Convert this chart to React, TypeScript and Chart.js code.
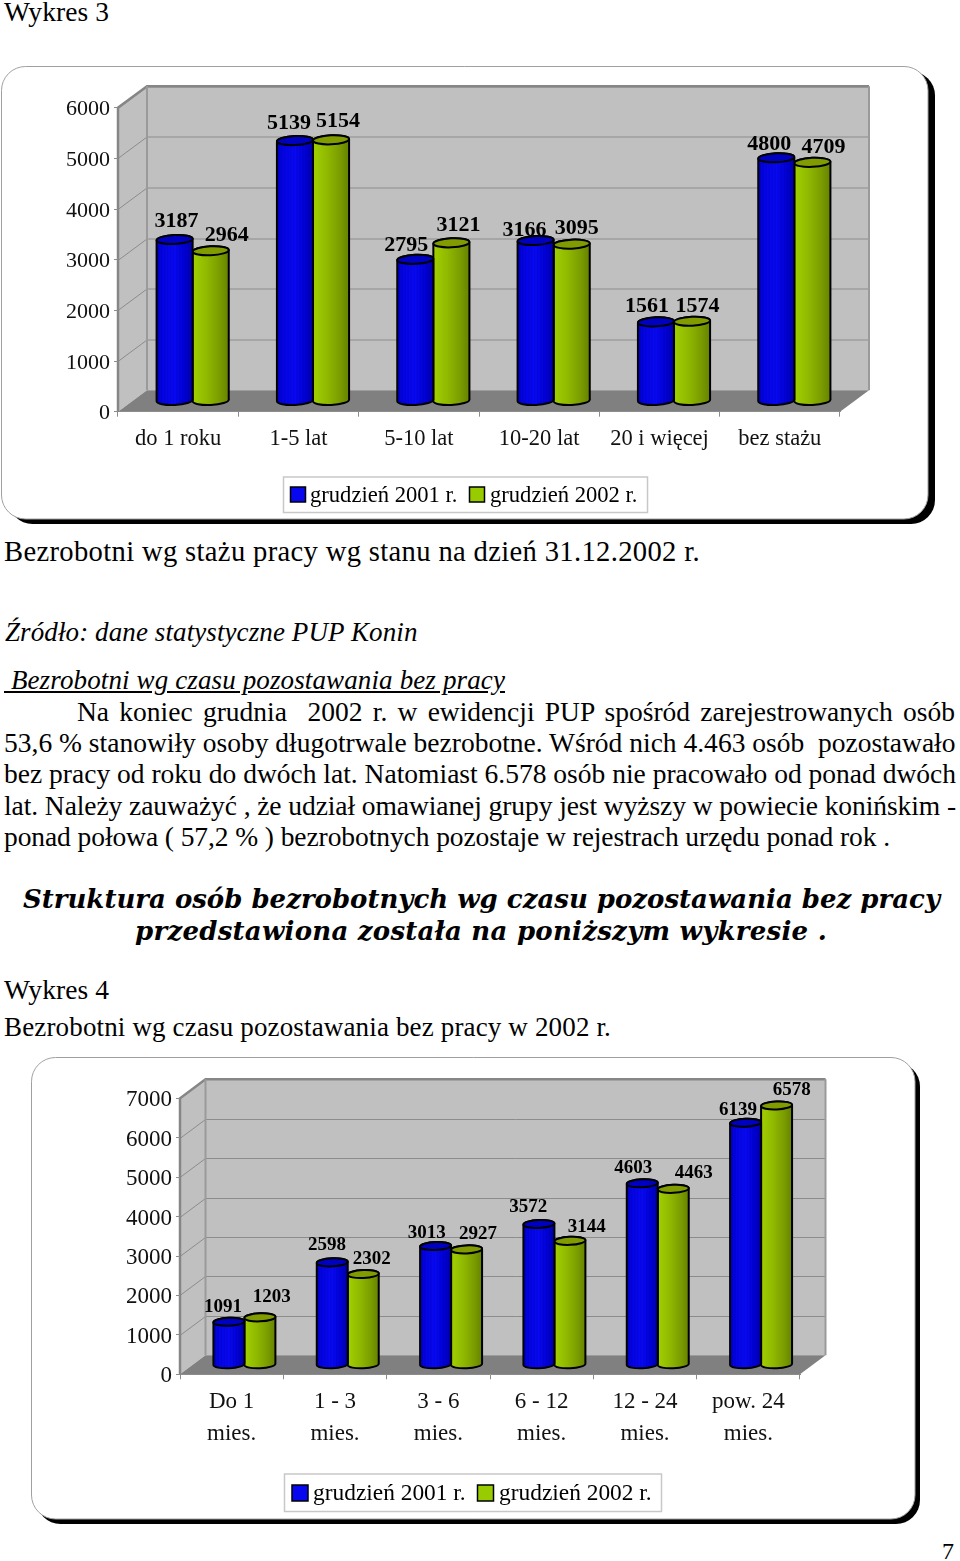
import React, { useEffect, useRef } from "react";
import { Chart, registerables, BarController } from "chart.js";

Chart.register(...registerables);

const SERIES_A = "grudzień 2001 r.";
const SERIES_B = "grudzień 2002 r.";

const stazCategories = ["do 1 roku", "1-5 lat", "5-10 lat", "10-20 lat", "20 i więcej", "bez stażu"];
const staz2001 = [3187, 5139, 2795, 3166, 1561, 4800];
const staz2002 = [2964, 5154, 3121, 3095, 1574, 4709];

const czasCategories = [["Do 1", "mies."], ["1 - 3", "mies."], ["3 - 6", "mies."], ["6 - 12", "mies."], ["12 - 24", "mies."], ["pow. 24", "mies."]];
const czas2001 = [1091, 2598, 3013, 3572, 4603, 6139];
const czas2002 = [1203, 2302, 2927, 3144, 4463, 6578];

// Style: label nudges from the top of each cylinder, per series.
const stazNudgeA = [[2, -18], [-6, -17.5], [-9, -14], [-11, -10.5], [-9, -15.5], [-7, -13.5]];
const stazNudgeB = [[16, -15.5], [7, -18.5], [7, -17.5], [5, -16], [5.5, -14.5], [11, -15.5]];
const czasNudgeA = [[-5.9, -14.6], [-5.25, -16.9], [-8.9, -13.1], [-10.6, -17.1], [-9, -14.8], [-7.5, -12.5]];
const czasNudgeB = [[11.8, -20.2], [8.45, -15.1], [11.4, -15.2], [16.8, -13.6], [20.5, -15.9], [15.2, -14.9]];

const SERIF = '"Liberation Serif"';

const PALETTE: Record<string, any> = {
  "#0808f0": {
    stops: [[0, "#0000cc"], [0.18, "#0404e6"], [0.5, "#0808f4"], [0.8, "#0000d4"], [1, "#0000a8"]],
    top: "#0000c0",
    stripes: true,
  },
  "#99cc00": {
    stops: [[0, "#a2d000"], [0.4, "#8fb800"], [0.75, "#7a9c00"], [1, "#668200"]],
    top: "#809c00",
    stripes: false,
  },
};

const TILT = -0.045;

function drawCylinder(ctx: any, el: any, geo: any) {
  const p = el.getProps(["x", "y", "base", "width"], true);
  const pal = PALETTE[el.options.backgroundColor] || PALETTE["#0808f0"];
  const cx = p.x + geo.dx / 2;
  const topY = p.y + geo.dy / 2;
  const botY = p.base + geo.dy / 2;
  const rx = p.width / 2;
  const ry = geo.ry;
  const left = cx - rx;
  const right = cx + rx;

  const body = () => {
    ctx.beginPath();
    ctx.ellipse(cx, botY, rx, ry, TILT, Math.PI, 0, true);
    ctx.ellipse(cx, topY, rx, ry, TILT, 0, Math.PI, true);
    ctx.closePath();
  };

  ctx.save();
  const g = ctx.createLinearGradient(left, 0, right, 0);
  pal.stops.forEach((s: any) => g.addColorStop(s[0], s[1]));
  body();
  ctx.fillStyle = g;
  ctx.fill();
  if (pal.stripes) {
    ctx.save();
    body();
    ctx.clip();
    ctx.strokeStyle = "rgba(0,0,60,0.13)";
    ctx.lineWidth = 1;
    for (let sx = left + 2; sx < right; sx += 3) {
      ctx.beginPath();
      ctx.moveTo(sx, topY - ry - 2);
      ctx.lineTo(sx, botY + ry + 2);
      ctx.stroke();
    }
    ctx.restore();
  }
  ctx.lineJoin = "round";
  ctx.lineWidth = 2;
  ctx.strokeStyle = "#000";
  body();
  ctx.stroke();
  ctx.beginPath();
  ctx.ellipse(cx, topY, rx, ry, TILT, 0, Math.PI * 2);
  ctx.fillStyle = pal.top;
  ctx.fill();
  ctx.stroke();
  ctx.restore();
}

class CylinderController extends (BarController as any) {
  static id = "cylinder";
  static defaults = { ...(BarController as any).defaults, dataElementType: "bar" };
  draw() {
    const chart = (this as any).chart;
    const geo = chart.options.plugins.wall;
    (this as any).getMeta().data.forEach((el: any) => drawCylinder(chart.ctx, el, geo));
  }
}
Chart.register(CylinderController as any);

function roundPanel(ctx: any, x0: number, y0: number, x1: number, y1: number, r: number) {
  ctx.beginPath();
  ctx.roundRect(x0, y0, x1 - x0, y1 - y0, r);
}

const wallPlugin = {
  id: "wall",
  beforeDraw(chart: any, _a: any, geo: any) {
    const { ctx, chartArea: a, scales } = chart;
    const f = geo.frame;
    ctx.save();
    // frame + hard shadow
    roundPanel(ctx, f.x0 + f.sx, f.y0 + f.sy, f.x1 + f.sx, f.y1 + f.sy, f.r);
    ctx.fillStyle = "#000";
    ctx.fill();
    roundPanel(ctx, f.x0, f.y0, f.x1, f.y1, f.r);
    ctx.fillStyle = "#fff";
    ctx.fill();
    ctx.strokeStyle = "#a0a0a0";
    ctx.lineWidth = 1;
    ctx.stroke();

    const { dx, dy } = geo;
    const L = a.left, R = a.right, T = a.top, B = a.bottom;
    // back wall
    ctx.fillStyle = "#c0c0c0";
    ctx.fillRect(L + dx, T + dy, R - L, B - T);
    // side wall
    ctx.beginPath();
    ctx.moveTo(L, T);
    ctx.lineTo(L + dx, T + dy);
    ctx.lineTo(L + dx, B + dy);
    ctx.lineTo(L, B);
    ctx.closePath();
    ctx.fill();
    // floor
    ctx.fillStyle = "#808080";
    ctx.beginPath();
    ctx.moveTo(L, B);
    ctx.lineTo(L + dx, B + dy);
    ctx.lineTo(R + dx, B + dy);
    ctx.lineTo(R, B);
    ctx.closePath();
    ctx.fill();
    // grid
    ctx.strokeStyle = "#8c8c8c";
    ctx.lineWidth = 1;
    scales.y.ticks.forEach((t: any) => {
      if (t.value === 0) return;
      const y = Math.round(scales.y.getPixelForValue(t.value)) + 0.5;
      ctx.beginPath();
      ctx.moveTo(L, y);
      ctx.lineTo(L + dx, y + dy);
      ctx.lineTo(R + dx, y + dy);
      ctx.stroke();
    });
    // wall edges
    ctx.strokeStyle = "#868686";
    ctx.lineWidth = 2.5;
    ctx.beginPath();
    ctx.moveTo(L, B);
    ctx.lineTo(L, T);
    ctx.lineTo(L + dx, T + dy);
    ctx.lineTo(R + dx, T + dy);
    ctx.stroke();
    ctx.lineWidth = 2;
    ctx.beginPath();
    ctx.moveTo(L + dx, T + dy);
    ctx.lineTo(L + dx, B + dy);
    ctx.moveTo(R + dx, T + dy);
    ctx.lineTo(R + dx, B + dy);
    ctx.strokeStyle = "#9a9a9a";
    ctx.stroke();
    ctx.restore();
  },
  beforeDatasetsDraw(chart: any, _a: any, geo: any) {
    const { ctx } = chart;
    ctx.save();
    ctx.font = `bold ${geo.labelSize}px ${SERIF}`;
    ctx.fillStyle = "#000";
    ctx.textAlign = "center";
    ctx.textBaseline = "middle";
    chart.data.datasets.forEach((ds: any, di: number) => {
      chart.getDatasetMeta(di).data.forEach((el: any, i: number) => {
        const n = ds.labelNudge[i];
        ctx.fillText(String(ds.data[i]), el.x + geo.dx / 2 + n[0], el.y + geo.dy / 2 + n[1]);
      });
    });
    ctx.restore();
  },
  afterDraw(chart: any, _a: any, geo: any) {
    const { ctx } = chart;
    const l = geo.legend;
    ctx.save();
    ctx.fillStyle = "#fff";
    ctx.fillRect(l.x0, l.y0, l.x1 - l.x0, l.y1 - l.y0);
    ctx.strokeStyle = "#c8c8c8";
    ctx.lineWidth = 1.5;
    ctx.strokeRect(l.x0, l.y0, l.x1 - l.x0, l.y1 - l.y0);
    ctx.font = `${l.size}px ${SERIF}`;
    ctx.textBaseline = "middle";
    chart.data.datasets.forEach((ds: any, i: number) => {
      ctx.fillStyle = ds.backgroundColor;
      ctx.fillRect(l.swatch[i], l.sy, l.sw, l.sw);
      ctx.strokeStyle = "#000";
      ctx.lineWidth = 1.5;
      ctx.strokeRect(l.swatch[i], l.sy, l.sw, l.sw);
      ctx.fillStyle = "#000";
      ctx.fillText(ds.label, l.text[i], l.ty);
    });
    ctx.restore();
  },
};

const GEO_STAZ = {
  w: 960, h: 470, pageTop: 60,
  left: 118, right: 840, top: 47.7, bottom: 351.7,
  dx: 29, dy: -21.5, ry: 4.5, labelSize: 22,
  max: 6000, tickSize: 22, catSize: 22.5, catPad: 9, yPad: 4,
  frame: { x0: 1.5, y0: 6.5, x1: 928, y1: 459, r: 24, sx: 7, sy: 5 },
  legend: { x0: 283.5, y0: 417, x1: 647.5, y1: 452.5, size: 22.6, swatch: [290.5, 469.5], sy: 427, sw: 15, text: [310, 490], ty: 436 },
};

const GEO_CZAS = {
  w: 960, h: 480, pageTop: 1050,
  left: 180, right: 800, top: 48.3, bottom: 324.3,
  dx: 25.5, dy: -19, ry: 4, labelSize: 19,
  max: 7000, tickSize: 23, catSize: 23, catPad: 7, yPad: 4, catLine: 31.5,
  frame: { x0: 31.5, y0: 7.5, x1: 915, y1: 469, r: 24, sx: 5, sy: 5 },
  legend: { x0: 284.5, y0: 424, x1: 661.5, y1: 461.5, size: 23.4, swatch: [292, 477.5], sy: 435, sw: 16, text: [313, 499], ty: 444 },
};

function ChartBox({ geo, cats, a, b, nudgeA, nudgeB }: any) {
  const ref = useRef<HTMLCanvasElement>(null);
  useEffect(() => {
    const chart = new Chart(ref.current as any, {
      type: "cylinder" as any,
      data: {
        labels: cats,
        datasets: [
          { label: SERIES_A, data: a, backgroundColor: "#0808f0", categoryPercentage: 0.6, barPercentage: 1, clip: false, labelNudge: nudgeA },
          { label: SERIES_B, data: b, backgroundColor: "#99cc00", categoryPercentage: 0.6, barPercentage: 1, clip: false, labelNudge: nudgeB },
        ] as any,
      },
      options: {
        responsive: false,
        animation: false,
        events: [],
        layout: { padding: { left: 0, top: geo.top, right: geo.w - geo.right, bottom: 0 } },
        plugins: { legend: { display: false }, tooltip: { enabled: false }, title: { display: false }, wall: geo } as any,
        scales: {
          x: {
            type: "category",
            offset: true,
            afterFit: (s: any) => { s.height = geo.h - geo.bottom; },
            grid: { offset: true, drawOnChartArea: false, tickLength: 5, tickColor: "#8c8c8c" },
            border: { color: "#8c8c8c", width: 1 },
            ticks: {
              maxRotation: 0, minRotation: 0, autoSkip: false, padding: geo.catPad, color: "#111",
              font: { family: SERIF, size: geo.catSize, lineHeight: geo.catLine ? geo.catLine / geo.catSize : 1.2 },
            },
          },
          y: {
            type: "linear",
            min: 0,
            max: geo.max,
            afterFit: (s: any) => { s.width = geo.left; },
            grid: { drawOnChartArea: false, tickLength: 4, tickColor: "#8c8c8c" },
            border: { color: "#868686", width: 1 },
            ticks: {
              stepSize: 1000, padding: geo.yPad, color: "#111", labelOffset: 2,
              font: { family: SERIF, size: geo.tickSize },
              callback: (v: any) => String(v),
            },
          },
        },
      } as any,
      plugins: [wallPlugin as any],
    });
    return () => chart.destroy();
  }, []);
  return <canvas ref={ref} width={geo.w} height={geo.h} style={{ position: "absolute", left: 0, top: geo.pageTop, width: geo.w, height: geo.h }} />;
}

const S = 27.5;
const textLines: any[] = [
  { t: "Wykres 3", x0: 4, x1: 109, cy: 11, size: S, letter: true },
  { t: "Bezrobotni wg stażu pracy wg stanu na dzień 31.12.2002 r.", x0: 4, x1: 700, cy: 552, size: 28.6, letter: true },
  { t: "Źródło: dane statystyczne PUP Konin", x0: 5, x1: 418, cy: 632, size: 27, italic: true, letter: true },
  { t: "\u00a0Bezrobotni wg czasu pozostawania bez pracy", x0: 4, x1: 505, cy: 680, size: 27, italic: true, underline: true, letter: true },
  { t: "Na koniec grudnia  2002 r. w ewidencji PUP spośród zarejestrowanych osób", x0: 77, x1: 956, cy: 711, size: S },
  { t: "53,6 % stanowiły osoby długotrwale bezrobotne. Wśród nich 4.463 osób  pozostawało", x0: 4, x1: 956, cy: 742, size: S, letter: true },
  { t: "bez pracy od roku do dwóch lat. Natomiast 6.578 osób nie pracowało od ponad dwóch", x0: 4, x1: 956, cy: 773, size: S, letter: true },
  { t: "lat. Należy zauważyć , że udział omawianej grupy jest wyższy w powiecie konińskim -", x0: 4, x1: 956, cy: 805, size: S, letter: true },
  { t: "ponad połowa ( 57,2 % ) bezrobotnych pozostaje w rejestrach urzędu ponad rok .", x0: 4, x1: 890, cy: 836, size: S, letter: true },
  { t: "Struktura osób bezrobotnych wg czasu pozostawania bez pracy", x0: 23, x1: 940, cy: 900, size: 26, bold: true, italic: true, family: '"DejaVu Serif"', letter: true },
  { t: "przedstawiona została na poniższym wykresie .", x0: 135, x1: 827, cy: 932, size: 26, bold: true, italic: true, family: '"DejaVu Serif"', letter: true },
  { t: "Wykres 4", x0: 4, x1: 109, cy: 989, size: S, letter: true },
  { t: "Bezrobotni wg czasu pozostawania bez pracy w 2002 r.", x0: 4, x1: 611, cy: 1027, size: 27, letter: true },
  { t: "7", x0: 942, x1: 955, cy: 1551, size: 24 },
];

const measureCtx = document.createElement("canvas").getContext("2d") as CanvasRenderingContext2D;

function TextLine({ l }: any) {
  const family = l.family || SERIF;
  const font = `${l.italic ? "italic " : ""}${l.bold ? "bold " : ""}${l.size}px ${family}`;
  measureCtx.font = font;
  const natural = measureCtx.measureText(l.t).width;
  const gaps = (l.t.match(/[ \u00a0]/g) || []).length;
  const extra = l.x1 - l.x0 - natural;
  const style: any = {
    position: "absolute",
    left: l.x0,
    top: l.cy - l.size * 0.6,
    font,
    lineHeight: `${l.size * 1.2}px`,
    whiteSpace: "pre",
    color: "#000",
    textDecoration: l.underline ? "underline" : "none",
  };
  if (l.letter) style.letterSpacing = `${extra / l.t.length}px`;
  else if (gaps) style.wordSpacing = `${extra / gaps}px`;
  return <div style={style}>{l.t}</div>;
}

export default function App() {
  return (
    <div style={{ position: "absolute", left: 0, top: 0, width: 960, height: 1561, overflow: "hidden", background: "#fff" }}>
      {textLines.map((l, i) => <TextLine key={i} l={l} />)}
      <ChartBox geo={GEO_STAZ} cats={stazCategories} a={staz2001} b={staz2002} nudgeA={stazNudgeA} nudgeB={stazNudgeB} />
      <ChartBox geo={GEO_CZAS} cats={czasCategories} a={czas2001} b={czas2002} nudgeA={czasNudgeA} nudgeB={czasNudgeB} />
    </div>
  );
}
